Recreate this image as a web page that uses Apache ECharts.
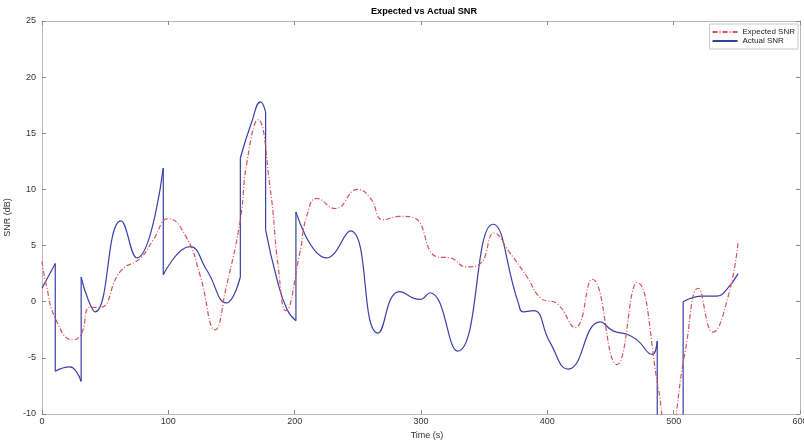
<!DOCTYPE html>
<html>
<head>
<meta charset="utf-8">
<script src="https://cdn.jsdelivr.net/npm/echarts@6/dist/echarts.min.js"></script>
<style>
  html, body { margin: 0; padding: 0; background: #fff; }
  #chart { width: 804px; height: 442px; }
</style>
</head>
<body>
<div id="chart"></div>
<script>
// Expected SNR over time: [time (s), SNR (dB)]
const expectedSNR = [
  [0, 3.6], [3, 1.7], [11, -1.6], [24.5, -3.4], [31, -2.9], [38, -0.5], [46, -0.5],
  [62, 2.7], [78, 3.9], [88, 5.5], [100, 7.4], [114, 5.8], [125, 2.4], [137, -2.5],
  [146, 1.4], [157, 7.3], [162, 12.3], [171, 16.2], [180.5, 10.2], [187, 3.1], [193, -0.8],
  [204, 4.3], [209.5, 7.6], [217.7, 9.2], [232, 8.3], [250, 10.0], [260, 9.2], [270, 7.3],
  [283, 7.6], [294, 7.5], [312.5, 4.0], [323, 3.9], [336, 3.1], [347, 3.4], [358, 6.1],
  [370, 4.4], [384, 2.2], [395, 0.3], [408, -0.2], [422, -2.3], [435.5, 2.0], [455, -5.6],
  [471, 1.7], [488, -7.8], [495, -13.0], [509, -4.5], [519.5, 1.2], [531, -2.7],
  [543, 0.4], [551, 5.3]
];

// Actual SNR over time: [time (s), SNR (dB)]; a repeated time marks a step change
const actualSNR = [
  [0, 1.2], [10.5, 3.4], [10.5, -6.2], [22, -5.8], [27, -6.2], [31, -7.1], [31, 2.2],
  [36.5, 0.2], [42, -0.9], [62.5, 7.2], [75, 3.9], [96, 11.9], [96, 2.4], [117, 4.9],
  [130.5, 2.8], [146, -0.1], [157, 2.2], [157, 12.8], [166, 16.0], [173, 17.8], [177, 16.9], [177, 6.4],
  [186, 2.0], [194, -0.7], [201, -1.7], [201, 8.0], [225.5, 3.9], [244, 6.3], [266, -2.8], [283, 0.9],
  [299, 0.2], [307, 0.8], [329, -4.4], [357, 6.9], [377, -0.1], [381, -0.9], [389, -0.8],
  [402, -3.6], [416.5, -6.0], [442, -1.8], [452, -2.6], [463, -2.9], [471, -3.4],
  [483, -4.7], [487, -3.5], [487, -15.0], [507.5, -15.0], [507.5, 0.0], [523, 0.5],
  [534, 0.5], [542, 1.1], [551, 2.5]
];

const xTicks = { min: 0, max: 600, interval: 100 };
const yTicks = { min: -10, max: 25, interval: 5 };

const axisGray = '#b8b8b8';
const fontFamily = 'Liberation Sans, Arial, sans-serif';
const labelStyle = { color: '#333', fontSize: 9, fontFamily: fontFamily };

// Split a trace at step changes: smooth pieces between steps, straight vertical risers at steps.
function splitAtSteps(points) {
  const pieces = [];
  const risers = [];
  let current = [points[0]];
  for (let i = 1; i < points.length; i++) {
    const p = points[i];
    const prev = points[i - 1];
    if (p[0] === prev[0]) {
      pieces.push(current);
      risers.push([prev, p]);
      current = [p];
    } else {
      current.push(p);
    }
  }
  pieces.push(current);
  return { pieces, risers };
}

const actualColor = '#3a3fa6';
const expectedColor = '#d9505c';

const actualParts = splitAtSteps(actualSNR);
const actualSeries = [];
actualParts.pieces.forEach(function (piece) {
  actualSeries.push({
    name: 'Actual SNR', type: 'line', data: piece, smooth: 0.5, symbol: 'none', clip: true,
    lineStyle: { color: actualColor, width: 1.2 }, itemStyle: { color: actualColor }, z: 2
  });
});
actualParts.risers.forEach(function (riser) {
  actualSeries.push({
    name: 'Actual SNR', type: 'line', data: riser, smooth: false, symbol: 'none', clip: true,
    lineStyle: { color: actualColor, width: 1.2 }, itemStyle: { color: actualColor }, z: 2
  });
});

const chart = echarts.init(document.getElementById('chart'), null, { renderer: 'canvas' });

chart.setOption({
  animation: false,
  backgroundColor: '#fff',
  title: {
    text: 'Expected vs Actual SNR',
    left: 424,
    textAlign: 'center',
    top: 7,
    padding: 0,
    textStyle: { fontSize: 9.2, fontWeight: 'bold', color: '#000', fontFamily: fontFamily }
  },
  legend: {
    orient: 'vertical',
    right: 6,
    top: 24,
    itemWidth: 25,
    itemHeight: 8,
    itemGap: 1,
    padding: [4, 3, 4, 2],
    borderColor: '#c8c8c8',
    borderWidth: 1,
    backgroundColor: '#fff',
    itemStyle: { opacity: 0 },
    textStyle: { fontSize: 8, lineHeight: 8, color: '#222', fontFamily: fontFamily },
    data: ['Expected SNR', 'Actual SNR']
  },
  grid: { left: 42, right: 4, top: 21, bottom: 28, containLabel: false, outerBoundsMode: 'none' },
  xAxis: [
    {
      type: 'value',
      min: xTicks.min, max: xTicks.max, interval: xTicks.interval,
      name: 'Time (s)',
      nameLocation: 'middle',
      nameGap: 12,
      nameTextStyle: Object.assign({ padding: [0, 0, 0, 12] }, labelStyle),
      axisLine: { show: true, onZero: false, lineStyle: { color: axisGray, width: 1 } },
      axisTick: { show: true, inside: true, length: 4, lineStyle: { color: '#888' } },
      axisLabel: Object.assign({ margin: 3 }, labelStyle),
      splitLine: { show: false }
    },
    {
      type: 'value',
      position: 'top',
      min: xTicks.min, max: xTicks.max, interval: xTicks.interval,
      axisLine: { show: true, onZero: false, lineStyle: { color: axisGray, width: 1 } },
      axisTick: { show: true, inside: true, length: 4, lineStyle: { color: '#888' } },
      axisLabel: { show: false },
      splitLine: { show: false }
    }
  ],
  yAxis: [
    {
      type: 'value',
      min: yTicks.min, max: yTicks.max, interval: yTicks.interval,
      name: 'SNR (dB)',
      nameLocation: 'middle',
      nameGap: 25,
      nameTextStyle: labelStyle,
      axisLine: { show: true, onZero: false, lineStyle: { color: axisGray, width: 1 } },
      axisTick: { show: true, inside: true, length: 4, lineStyle: { color: '#888' } },
      axisLabel: Object.assign({ margin: 6 }, labelStyle),
      splitLine: { show: false }
    },
    {
      type: 'value',
      position: 'right',
      min: yTicks.min, max: yTicks.max, interval: yTicks.interval,
      axisLine: { show: true, onZero: false, lineStyle: { color: axisGray, width: 1 } },
      axisTick: { show: true, inside: true, length: 4, lineStyle: { color: '#888' } },
      axisLabel: { show: false },
      splitLine: { show: false }
    }
  ],
  series: [
    {
      name: 'Expected SNR',
      type: 'line',
      data: expectedSNR,
      smooth: 0.5,
      symbol: 'none',
      clip: true,
      lineStyle: { color: expectedColor, width: 1.2, type: [5, 2, 1, 2] },
      itemStyle: { color: expectedColor },
      z: 3
    }
  ].concat(actualSeries)
});
</script>
</body>
</html>
